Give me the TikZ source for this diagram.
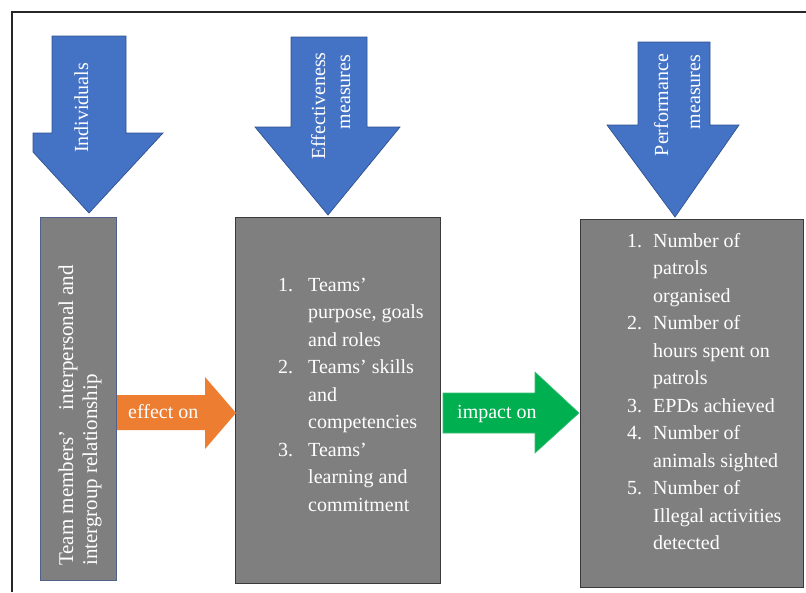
\documentclass[tikz,border=0pt]{standalone}
\usepackage{fontspec}
\setmainfont{Liberation Serif}
\definecolor{accentblue}{RGB}{68,114,196}
\definecolor{accentblueline}{RGB}{47,82,143}
\definecolor{boxgray}{RGB}{127,127,127}
\definecolor{boxedge}{RGB}{58,58,58}
\definecolor{boxedgeblue}{RGB}{80,98,140}
\definecolor{accentorange}{RGB}{237,125,49}
\definecolor{accentgreen}{RGB}{0,176,80}
\definecolor{accentgreenline}{RGB}{60,190,120}
\begin{document}
\begin{tikzpicture}[x=1pt,y=-1pt,
  downarrow/.style={fill=accentblue,draw=accentblueline,line width=0.7pt},
  effectarrow/.style={fill=accentorange},
  impactarrow/.style={fill=accentgreen,draw=accentgreenline,line width=0.6pt},
  graybox/.style={fill=boxgray,draw=boxedge,line width=1pt},
  wtext/.style={text=white,inner sep=0pt,font=\fontsize{20}{27.5}\selectfont},
  vtext/.style={wtext,rotate=90,anchor=base},
  listtext/.style={wtext,anchor=base west}]
\useasboundingbox (0,0) rectangle (806,592);

% frame edges
\draw[line width=2pt,black!85] (12,592) -- (12,11.5) -- (806,11.5);

% gray boxes
\draw[graybox,draw=boxedgeblue,line width=0.8pt] (40,217) rectangle (116,580);
\draw[graybox] (235,217) rectangle (440,583);
\draw[graybox] (580,219) rectangle (803,587);

% downward block arrows
\draw[downarrow] (52,36) -- (126,36) -- (126,133) -- (163,133) -- (89,213)
  -- (33,152) -- (33,133) -- (52,133) -- cycle;
\draw[downarrow] (291,37) -- (367,37) -- (367,127) -- (400,127) -- (328,215)
  -- (255,127) -- (291,127) -- cycle;
\draw[downarrow] (638,42) -- (710,42) -- (710,125) -- (739,125) -- (675,217)
  -- (607,125) -- (638,125) -- cycle;

\node[vtext] (ind) at (88,108) {Individuals};
\node[vtext] (eff1) at (325,106) {Effectiveness};
\node[vtext] (eff2) at (350,92) {measures};
\node[vtext] (perf1) at (668,105) {Performance};
\node[vtext] (perf2) at (700,92) {measures};

% horizontal block arrows
\fill[effectarrow] (117,395) -- (205,395) -- (205,377) -- (236,413) -- (205,449)
  -- (205,430) -- (117,430) -- cycle;
\draw[impactarrow] (443,393) -- (535,393) -- (535,372) -- (579,413) -- (535,453)
  -- (535,433) -- (443,433) -- cycle;

\node[listtext] (effon) at (128,418) {effect on};
\node[listtext] (impon) at (457,418) {impact on};

% box 1 text
\node[wtext,rotate=90,anchor=base west,font=\fontsize{21}{24}\selectfont] (rel1) at (73,566)
  {Team members’\hspace{0.7em} interpersonal and};
\node[wtext,rotate=90,anchor=base west,font=\fontsize{21}{24}\selectfont] (rel2) at (97,566)
  {intergroup relationship};

% box 2 list
\node[listtext] (list2) at (278,291) {\begin{tabular}[t]{@{}r@{\hspace{15pt}}l@{}}
1.&Teams’\\
  &purpose, goals\\
  &and roles\\
2.&Teams’ skills\\
  &and\\
  &competencies\\
3.&Teams’\\
  &learning and\\
  &commitment
\end{tabular}};

% box 3 list
\node[listtext] (list3) at (627,247) {\begin{tabular}[t]{@{}r@{\hspace{11pt}}l@{}}
1.&Number of\\
  &patrols\\
  &organised\\
2.&Number of\\
  &hours spent on\\
  &patrols\\
3.&EPDs achieved\\
4.&Number of\\
  &animals sighted\\
5.&Number of\\
  &Illegal activities\\
  &detected
\end{tabular}};
\end{tikzpicture}
\end{document}
